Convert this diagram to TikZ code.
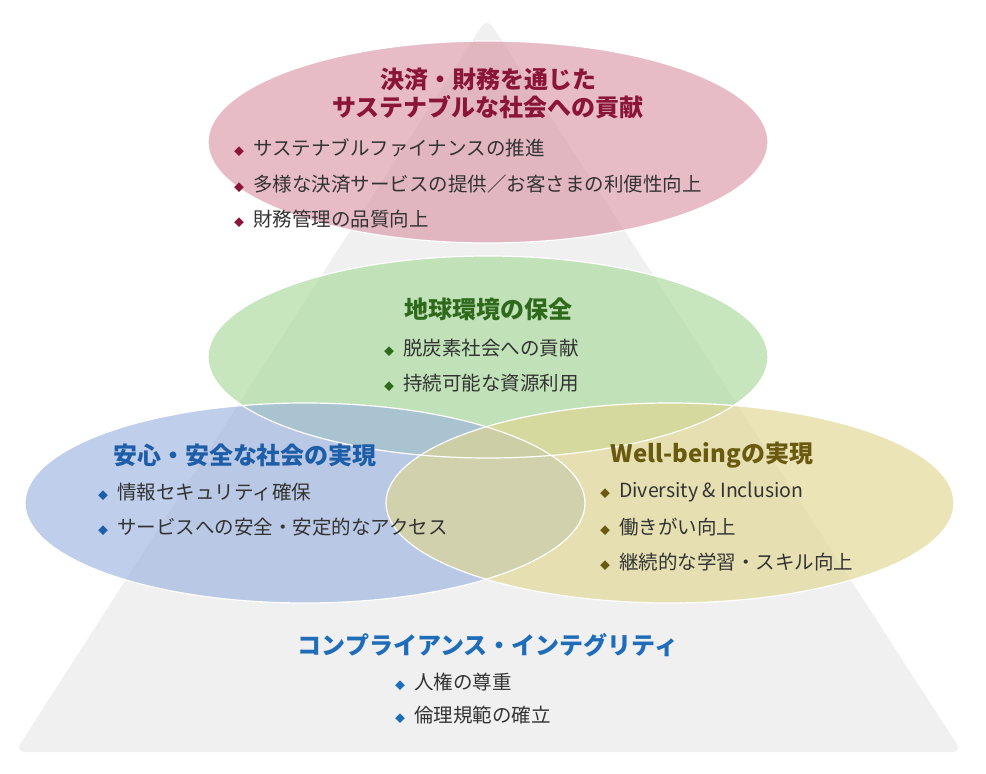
\documentclass[tikz,border=0pt]{standalone}
\usepackage{fontspec}
\setmainfont{Noto Sans CJK JP}
\definecolor{tred}{HTML}{8A1538}
\definecolor{tgreen}{HTML}{2F6A1C}
\definecolor{tblue}{HTML}{1E5EA8}
\definecolor{tolive}{HTML}{6A5A10}
\definecolor{tcomp}{HTML}{1F6CB8}
\definecolor{txt}{HTML}{333333}
\definecolor{fpink}{HTML}{DC98A8}
\definecolor{fgreen}{HTML}{A9D99A}
\definecolor{fblue}{HTML}{9DB3DE}
\definecolor{fyellow}{HTML}{E0D690}
\tikzset{
 ttl/.style={font=\fontsize{24}{28}\selectfont\bfseries, align=center, inner sep=0},
 itm/.style={font=\fontsize{19.5}{22}\selectfont, text=txt, anchor=west, inner sep=0},
 ell/.style={fill opacity=0.65}
}
\newcommand{\bul}[1]{{\color{#1}\fontsize{10}{10}\selectfont◆}\hspace{9pt}}
\begin{document}
\begin{tikzpicture}[x=1pt,y=-1pt]
\useasboundingbox (0,0) rectangle (986,774);
\fill[black!6, rounded corners=10pt] (487,18) -- (962,752) -- (15,752) -- cycle;
\coordinate (ct) at (488,142);
\coordinate (cg) at (488,357);
\coordinate (cb) at (305,503);
\coordinate (cy) at (670,503);
\fill[ell, fill=fpink] (ct) ellipse [x radius=280, y radius=101];
\fill[ell, fill=fgreen] (cg) ellipse [x radius=280, y radius=101];
\fill[ell, fill=fblue] (cb) ellipse [x radius=280, y radius=100];
\fill[ell, fill=fyellow] (cy) ellipse [x radius=284, y radius=100];
\draw[white, line width=1.2pt] (ct) ellipse [x radius=280, y radius=101];
\draw[white, line width=1.2pt] (cg) ellipse [x radius=280, y radius=101];
\draw[white, line width=1.2pt] (cb) ellipse [x radius=280, y radius=100];
\draw[white, line width=1.2pt] (cy) ellipse [x radius=284, y radius=100];

\node[ttl, text=tred] (t1) at (488,93) {決済・財務を通じた\\サステナブルな社会への貢献};
\node[itm] (t1a) at (234,148) {\bul{tred}サステナブルファイナンスの推進};
\node[itm] (t1b) at (234,184) {\bul{tred}多様な決済サービスの提供／お客さまの利便性向上};
\node[itm] (t1c) at (234,219) {\bul{tred}財務管理の品質向上};

\node[ttl, text=tgreen] (t2) at (488,309) {地球環境の保全};
\node[itm] (t2a) at (384,348) {\bul{tgreen}脱炭素社会への貢献};
\node[itm] (t2b) at (384,383) {\bul{tgreen}持続可能な資源利用};

\node[ttl, text=tblue] (t3) at (245,455) {安心・安全な社会の実現};
\node[itm] (t3a) at (98,492) {\bul{tblue}情報セキュリティ確保};
\node[itm] (t3b) at (98,527) {\bul{tblue}サービスへの安全・安定的なアクセス};

\node[ttl, text=tolive] (t4) at (712,455) {Well-beingの実現};
\node[itm] (t4a) at (600,492) {\bul{tolive}Diversity \& Inclusion};
\node[itm] (t4b) at (600,527) {\bul{tolive}働きがい向上};
\node[itm] (t4c) at (600,562) {\bul{tolive}継続的な学習・スキル向上};

\node[ttl, text=tcomp] (t5) at (488,645) {コンプライアンス・インテグリティ};
\node[itm] (t5a) at (395,682) {\bul{tcomp}人権の尊重};
\node[itm] (t5b) at (395,715) {\bul{tcomp}倫理規範の確立};
\end{tikzpicture}
\end{document}
